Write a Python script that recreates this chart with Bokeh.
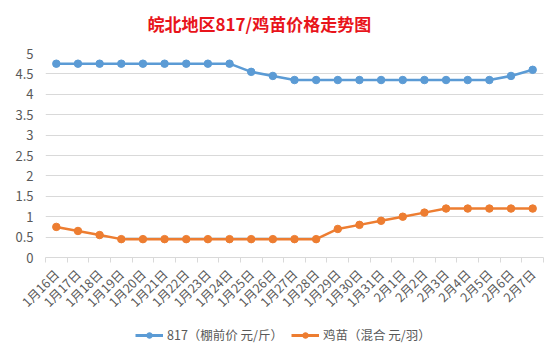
import math
from bokeh.plotting import figure
from bokeh.layouts import column
from bokeh.models import (FixedTicker, CustomJSTickFormatter, Legend, LegendItem, Range1d, Title)
from bokeh.embed import file_html
from bokeh.resources import INLINE

dates = ["1月16日", "1月17日", "1月18日", "1月19日", "1月20日", "1月21日", "1月22日",
         "1月23日", "1月24日", "1月25日", "1月26日", "1月27日", "1月28日", "1月29日",
         "1月30日", "1月31日", "2月1日", "2月2日", "2月3日", "2月4日", "2月5日",
         "2月6日", "2月7日"]
price_817 = [4.75, 4.75, 4.75, 4.75, 4.75, 4.75, 4.75, 4.75, 4.75, 4.55, 4.45, 4.35,
             4.35, 4.35, 4.35, 4.35, 4.35, 4.35, 4.35, 4.35, 4.35, 4.45, 4.6]
price_chick = [0.75, 0.65, 0.55, 0.45, 0.45, 0.45, 0.45, 0.45, 0.45, 0.45, 0.45, 0.45,
               0.45, 0.7, 0.8, 0.9, 1.0, 1.1, 1.2, 1.2, 1.2, 1.2, 1.2]
y_ticks = [0, 0.5, 1, 1.5, 2, 2.5, 3, 3.5, 4, 4.5, 5]
series_names = ["817（棚前价 元/斤）", "鸡苗（混合 元/羽）"]
title_text = "皖北地区817/鸡苗价格走势图"

FONT = "Noto Sans CJK SC"
GRAY = "#595959"
BLUE = "#5b9bd5"
ORANGE = "#ed7d31"

n = len(dates)
xs = list(range(n))

p = figure(width=560, height=320, output_backend="svg", toolbar_location=None,
           x_range=Range1d(-0.5, n - 0.5), y_range=Range1d(0, 5),
           min_border_left=45, min_border_right=17, min_border_top=53,
           min_border_bottom=63, title=None)
p.outline_line_color = None
p.background_fill_color = "white"
p.border_fill_color = "white"

# spacer first (closest to the frame), then the real title above it
p.add_layout(Title(text=" ", text_font_size="1px"), "above")
p.add_layout(Title(text=title_text, text_font=FONT, text_font_size="17px",
                   text_color="#e8141b", text_font_style="bold",
                   align="left", offset=102), "above")

# y axis
p.yaxis.ticker = FixedTicker(ticks=y_ticks)
p.yaxis.formatter = CustomJSTickFormatter(code="return tick.toString();")
p.yaxis.axis_line_color = None
p.yaxis.major_tick_line_color = None
p.yaxis.minor_tick_line_color = None
p.yaxis.major_label_text_font = FONT
p.yaxis.major_label_text_font_size = "13px"
p.yaxis.major_label_text_color = GRAY
p.yaxis.major_label_standoff = 6

# x axis
p.xaxis.ticker = FixedTicker(ticks=xs, minor_ticks=[i - 0.5 for i in range(n + 1)])
p.xaxis.major_label_overrides = {i: d for i, d in enumerate(dates)}
p.xaxis.major_label_orientation = math.pi / 4
p.xaxis.axis_line_color = "#d9d9d9"
p.xaxis.major_tick_line_color = None
p.xaxis.minor_tick_line_color = "#d9d9d9"
p.xaxis.minor_tick_in = 0
p.xaxis.minor_tick_out = 5
p.xaxis.major_label_text_font = FONT
p.xaxis.major_label_text_font_size = "12.5px"
p.xaxis.major_label_text_color = GRAY
p.xaxis.major_label_standoff = 8

p.xgrid.grid_line_color = None
p.ygrid.grid_line_color = "#d9d9d9"
p.ygrid.grid_line_width = 1

p.line(xs, price_817, line_color=BLUE, line_width=2.5)
p.scatter(xs, price_817, size=7.5, fill_color=BLUE, line_color=BLUE)
p.line(xs, price_chick, line_color=ORANGE, line_width=2.5)
p.scatter(xs, price_chick, size=7.5, fill_color=ORANGE, line_color=ORANGE)

# legend strip (series drawn out of view; only the legend is visible)
lg = figure(width=560, height=38, output_backend="svg", toolbar_location=None,
            x_axis_type=None, y_axis_type=None, min_border=0,
            x_range=Range1d(-100, -99), y_range=Range1d(-100, -99))
lg.outline_line_color = None
lg.xgrid.visible = False
lg.ygrid.visible = False
a1 = lg.line(xs, price_817, line_color=BLUE, line_width=3)
b1 = lg.scatter(xs, price_817, size=7.5, fill_color=BLUE, line_color=BLUE)
a2 = lg.line(xs, price_chick, line_color=ORANGE, line_width=3)
b2 = lg.scatter(xs, price_chick, size=7.5, fill_color=ORANGE, line_color=ORANGE)
legend = Legend(items=[LegendItem(label=series_names[0], renderers=[a1, b1]),
                       LegendItem(label=series_names[1], renderers=[a2, b2])],
                orientation="horizontal", location=(90, 14),
                glyph_width=28, glyph_height=14, label_text_font=FONT,
                label_text_font_size="12.5px", label_text_color=GRAY,
                border_line_color=None, background_fill_alpha=0,
                spacing=8, label_standoff=4, padding=2, margin=0)
lg.add_layout(legend, "center")

layout = column(p, lg, spacing=0)
open("out.html", "w").write(file_html(layout, INLINE))
